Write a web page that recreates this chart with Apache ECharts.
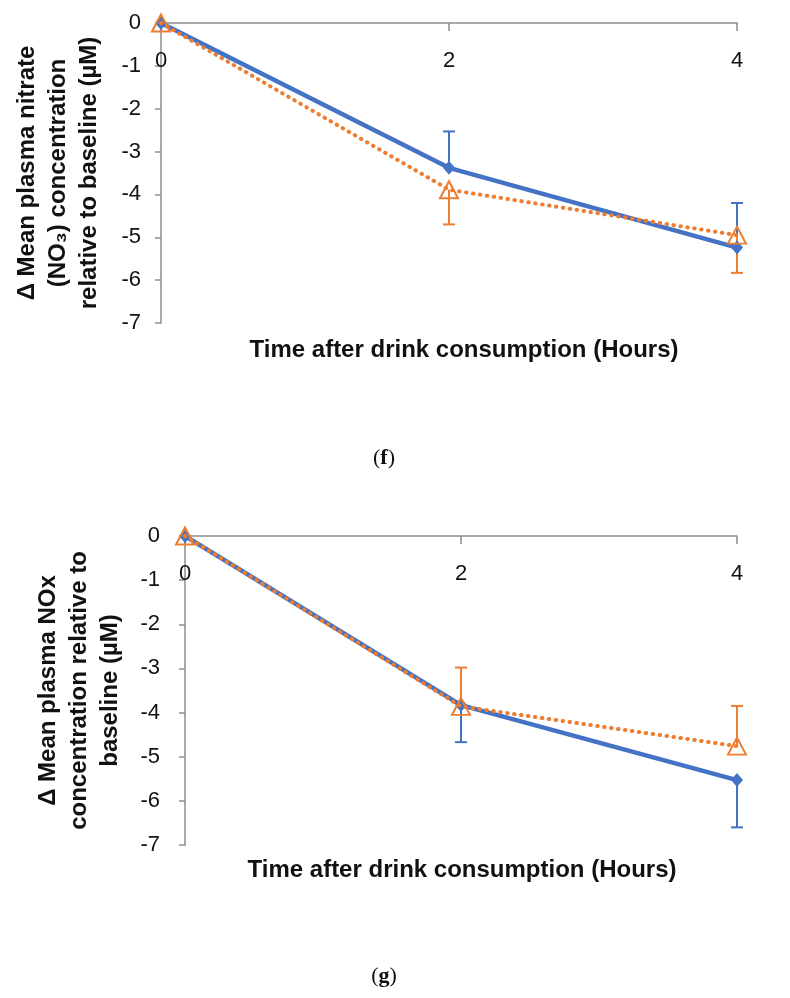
<!DOCTYPE html>
<html>
<head>
<meta charset="utf-8">
<script src="https://cdn.jsdelivr.net/npm/echarts@6/dist/echarts.min.js"></script>
<style>
html,body{margin:0;padding:0;background:#fff;}
#chart{width:790px;height:998px;}
</style>
</head>
<body>
<div id="chart"></div>
<script>
// ---- data ----
const hours = [0, 2, 4];
// panel (f): nitrate
const fBlue = [0, -3.38, -5.24];
const fOrange = [0, -3.89, -4.95];
const fBlueErr = [0, 0.85, 1.04];     // drawn upward
const fOrangeErr = [0, 0.81, 0.88];   // drawn downward
// panel (g): NOx
const gBlue = [0, -3.83, -5.53];
const gOrange = [0, -3.86, -4.76];
const gBlueErr = [0, 0.84, 1.07];     // drawn downward
const gOrangeErr = [0, 0.88, 0.91];   // drawn upward

const BLUE = '#4472C4', ORANGE = '#ED7D31', AXIS = '#8c8c8c';
const FONT = 'Liberation Sans, Arial, sans-serif';

function pts(ys){ return hours.map((h,i)=>[h, ys[i]]); }
function errData(ys, errs, dir){
  const out = [];
  hours.forEach((h,i)=>{ if (errs[i] > 0) out.push([h, ys[i], ys[i] + dir*errs[i]]); });
  return out;
}
function errSeries(idx, ys, errs, dir, color){
  return {
    type:'custom', xAxisIndex:idx, yAxisIndex:idx, z:3,
    data: errData(ys, errs, dir),
    renderItem: function(params, api){
      const p0 = api.coord([api.value(0), api.value(1)]);
      const p1 = api.coord([api.value(0), api.value(2)]);
      const st = {stroke: color, lineWidth: 2};
      return {type:'group', children:[
        {type:'line', shape:{x1:p0[0],y1:p0[1],x2:p1[0],y2:p1[1]}, style:st},
        {type:'line', shape:{x1:p1[0]-6,y1:p1[1],x2:p1[0]+6,y2:p1[1]}, style:st}
      ]};
    }
  };
}
function xAx(idx){
  return {
    gridIndex: idx, type:'value', position:'top', min:0, max:4, interval:2,
    axisLine:{show:true, onZero:false, lineStyle:{color:AXIS, width:1.5}},
    axisTick:{show:true, inside:true, length:8, lineStyle:{color:AXIS, width:1.5}},
    axisLabel:{inside:true, margin:27, fontSize:22, color:'#111', fontFamily:FONT},
    splitLine:{show:false}
  };
}
function yAx(idx, name, gap, labMargin){
  return {
    gridIndex: idx, type:'value', min:-7, max:0, interval:1,
    axisLine:{show:true, onZero:false, lineStyle:{color:AXIS, width:1.5}},
    axisTick:{show:true, length:6, lineStyle:{color:AXIS, width:1.5}},
    axisLabel:{fontSize:22, color:'#111', margin:labMargin, fontFamily:FONT},
    splitLine:{show:false},
    name: name, nameLocation:'middle', nameRotate:90, nameGap:gap,
    nameTextStyle:{fontSize:24, fontWeight:'bold', color:'#111', lineHeight:31, fontFamily:FONT, align:'center'}
  };
}
function lineBlue(idx, ys){
  return {type:'line', xAxisIndex:idx, yAxisIndex:idx, data:pts(ys), z:4,
    symbol:'diamond', symbolSize:[12,14], clip:false,
    lineStyle:{color:BLUE, width:4.5}, itemStyle:{color:BLUE}};
}
function lineOrange(idx, ys){
  return {type:'line', xAxisIndex:idx, yAxisIndex:idx, data:pts(ys), z:5,
    symbol:'triangle', symbolSize:[18,17], clip:false,
    lineStyle:{color:ORANGE, width:4, type:[0.5,6.5], cap:'round'},
    itemStyle:{color:'rgba(255,255,255,0)', borderColor:ORANGE, borderWidth:2}};
}
const xName = 'Time after drink consumption (Hours)';
const capStyle = {fontSize:22, fill:'#111', fontFamily:'Liberation Serif, serif', align:'center', verticalAlign:'middle',
  rich:{b:{fontWeight:'bold', fontSize:22, fontFamily:'Liberation Serif, serif'}}};

const chart = echarts.init(document.getElementById('chart'));
chart.setOption({
  backgroundColor:'#fff',
  animation:false,
  grid:[
    {left:161, right:53, top:23, height:300},
    {left:185, right:53, top:536, height:309}
  ],
  xAxis:[xAx(0), xAx(1)],
  yAxis:[
    yAx(0, 'Δ Mean plasma nitrate\n(NO₃) concentration\nrelative to baseline (µM)', 56, 20),
    yAx(1, 'Δ Mean plasma NOx\nconcentration relative to\nbaseline (µM)', 59, 25)
  ],
  graphic:[
    {type:'text', style:{text:xName, x:464, y:350, align:'center', verticalAlign:'middle', fontSize:24, fontWeight:'bold', fill:'#111', fontFamily:FONT}},
    {type:'text', style:{text:xName, x:462, y:870, align:'center', verticalAlign:'middle', fontSize:24, fontWeight:'bold', fill:'#111', fontFamily:FONT}},
    {type:'text', style:Object.assign({text:'({b|f})', x:384, y:458}, capStyle)},
    {type:'text', style:Object.assign({text:'({b|g})', x:384, y:976}, capStyle)}
  ],
  series:[
    lineBlue(0, fBlue), lineOrange(0, fOrange),
    errSeries(0, fBlue, fBlueErr, 1, BLUE), errSeries(0, fOrange, fOrangeErr, -1, ORANGE),
    lineBlue(1, gBlue), lineOrange(1, gOrange),
    errSeries(1, gBlue, gBlueErr, -1, BLUE), errSeries(1, gOrange, gOrangeErr, 1, ORANGE)
  ]
});
</script>
</body>
</html>
